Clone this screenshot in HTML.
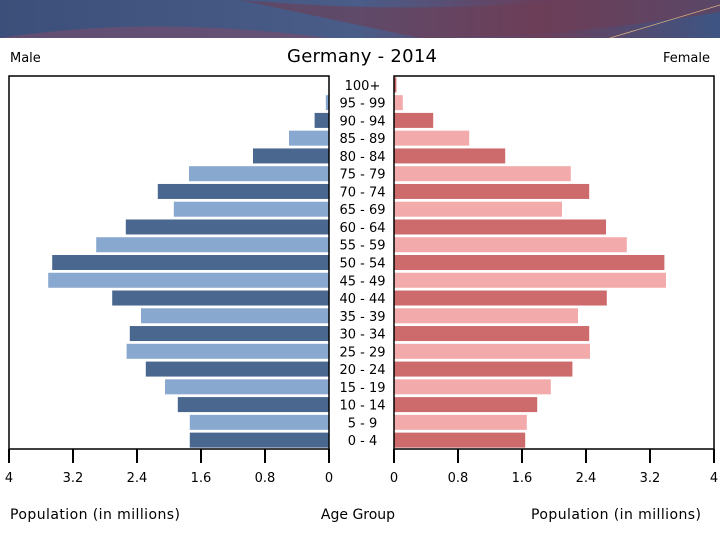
<!DOCTYPE html>
<html><head><meta charset="utf-8"><style>
body{margin:0;width:720px;height:540px;overflow:hidden;background:#fff;font-family:"DejaVu Sans","Liberation Sans",sans-serif}
</style></head><body>
<svg width="720" height="540" xmlns="http://www.w3.org/2000/svg">
<defs>
<linearGradient id="bg" x1="0" y1="0" x2="1" y2="0"><stop offset="0" stop-color="#3c4f7a"/><stop offset="0.5" stop-color="#4a5c88"/><stop offset="0.75" stop-color="#6a3f5c"/><stop offset="1" stop-color="#3d5583"/></linearGradient>
</defs>
<g>
<rect x="0" y="0" width="720" height="38" fill="url(#bg)"/>
<path d="M0 38 Q150 15 330 38 Z" fill="#7a4d6c" opacity="0.6"/>
<path d="M240 0 Q420 15 560 0 L720 0 L720 12 Q560 38 420 38 Z" fill="#6e3d55" opacity="0.6"/>
<line x1="610" y1="38" x2="720" y2="5" stroke="#d8b080" stroke-width="0.8"/>
</g>
<text x="10" y="62" font-size="13">Male</text>
<text x="710" y="62" font-size="13" text-anchor="end">Female</text>
<text x="362" y="62" font-size="18" text-anchor="middle" textLength="150">Germany - 2014</text>
<g id="plot"></g>
<text x="10" y="519" font-size="14" textLength="170">Population (in millions)</text>
<text x="358" y="519" font-size="14" text-anchor="middle">Age Group</text>
<text x="531" y="519" font-size="14" textLength="170">Population (in millions)</text>
</svg>
<script>
const ageGroups=["0 - 4","5 - 9","10 - 14","15 - 19","20 - 24","25 - 29","30 - 34","35 - 39","40 - 44","45 - 49","50 - 54","55 - 59","60 - 64","65 - 69","70 - 74","75 - 79","80 - 84","85 - 89","90 - 94","95 - 99","100+"];
const maleValues=[1.74,1.74,1.89,2.05,2.29,2.53,2.49,2.35,2.71,3.51,3.46,2.91,2.54,1.94,2.14,1.75,0.95,0.5,0.18,0.04,0.005];
const femaleValues=[1.64,1.66,1.79,1.96,2.23,2.45,2.44,2.30,2.66,3.40,3.38,2.91,2.65,2.10,2.44,2.21,1.39,0.94,0.49,0.11,0.03];
const tickValues=[0,0.8,1.6,2.4,3.2,4];
const tickLabels=["0","0.8","1.6","2.4","3.2","4"];
const NS="http://www.w3.org/2000/svg";
const g=document.getElementById('plot');
const L0=329,R0=394,K=80,TOP=76,BOT=449;
const xL=v=>L0-v*K, xR=v=>R0+v*K;
const rowH=(BOT-TOP)/ageGroups.length;
const yC=i=>BOT-(i+0.5)*rowH;
function mk(t,a){const e=document.createElementNS(NS,t);for(const k in a)e.setAttribute(k,a[k]);g.appendChild(e);return e;}
ageGroups.forEach((lab,i)=>{
  const dark=i%2===0, h=15;
  let r=mk('rect',{x:xL(maleValues[i]),y:yC(i)-h/2,width:maleValues[i]*K,height:h,fill:dark?'#4a6790':'#88a8cf'});
  
  
  r=mk('rect',{x:R0,y:yC(i)-h/2,width:femaleValues[i]*K,height:h,fill:dark?'#cd6a6b':'#f3aaaa'});
  
  
  const t=mk('text',{x:(L0+R0)/2+1,y:yC(i)+5,'font-size':13,'text-anchor':'middle'});
  t.textContent=lab;
  
  
});
let f=mk('rect',{x:xL(4),y:TOP,width:4*K,height:BOT-TOP,fill:'none',stroke:'#000','stroke-width':1.5});


f=mk('rect',{x:R0,y:TOP,width:4*K,height:BOT-TOP,fill:'none',stroke:'#000','stroke-width':1.5});


tickValues.forEach((v,i)=>{
  [[xL(v),'left'],[xR(v),'right']].forEach(([x,side])=>{
    const l=mk('line',{x1:x,y1:BOT,x2:x,y2:BOT+14,stroke:'#000','stroke-width':2});
    
    
    const t=mk('text',{x:x,y:BOT+33,'font-size':13,'text-anchor':'middle'});
    t.textContent=tickLabels[i];
    
    
  });
});
</script>
</body></html>
